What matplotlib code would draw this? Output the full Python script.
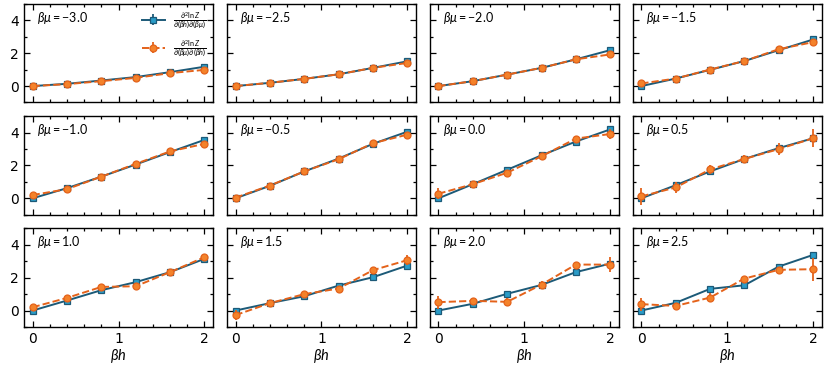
import numpy as np
import matplotlib
matplotlib.use("Agg")
import matplotlib.pyplot as plt
from matplotlib.ticker import MultipleLocator

plt.rcParams['mathtext.fontset'] = 'custom'
plt.rcParams['mathtext.rm'] = 'Lato'
plt.rcParams['mathtext.it'] = 'Lato:italic'
plt.rcParams['font.family'] = ['DejaVu Sans']

# beta*h grid and beta*mu panels
bh = [0.0, 0.4, 0.8, 1.2, 1.6, 2.0]
bmu = [-3.0, -2.5, -2.0, -1.5, -1.0, -0.5, 0.0, 0.5, 1.0, 1.5, 2.0, 2.5]

# d2lnZ / d(bh) d(bmu)
blue_vals = [
    [0.0, 0.14, 0.34, 0.55, 0.85, 1.18],
    [0.0, 0.20, 0.44, 0.72, 1.11, 1.51],
    [0.0, 0.30, 0.70, 1.11, 1.63, 2.19],
    [0.0, 0.46, 0.99, 1.53, 2.19, 2.84],
    [0.0, 0.62, 1.32, 2.06, 2.82, 3.56],
    [0.0, 0.76, 1.64, 2.42, 3.32, 4.06],
    [0.0, 0.86, 1.74, 2.62, 3.46, 4.20],
    [0.0, 0.80, 1.64, 2.40, 3.06, 3.66],
    [0.0, 0.61, 1.24, 1.73, 2.34, 3.15],
    [0.0, 0.45, 0.87, 1.52, 2.03, 2.74],
    [0.0, 0.41, 1.02, 1.56, 2.34, 2.86],
    [0.0, 0.47, 1.32, 1.54, 2.68, 3.39],
]
blue_err = [
    [0.02] * 6, [0.02] * 6, [0.02] * 6, [0.03] * 6,
    [0.03] * 6, [0.03] * 6, [0.04] * 6, [0.04] * 6,
    [0.04] * 6, [0.04] * 6, [0.05] * 6, [0.05] * 6,
]

# d2lnZ / d(bmu) d(bh)
orange_vals = [
    [0.0, 0.12, 0.30, 0.50, 0.79, 0.99],
    [0.0, 0.20, 0.44, 0.72, 1.11, 1.41],
    [0.0, 0.30, 0.70, 1.11, 1.63, 1.93],
    [0.16, 0.46, 1.01, 1.53, 2.25, 2.68],
    [0.20, 0.56, 1.32, 2.10, 2.86, 3.32],
    [0.04, 0.78, 1.64, 2.38, 3.36, 3.88],
    [0.28, 0.86, 1.56, 2.56, 3.64, 3.92],
    [0.12, 0.66, 1.76, 2.40, 3.00, 3.66],
    [0.20, 0.77, 1.44, 1.48, 2.34, 3.25],
    [-0.28, 0.45, 1.00, 1.34, 2.46, 3.07],
    [0.51, 0.59, 0.53, 1.58, 2.80, 2.80],
    [0.39, 0.28, 0.79, 1.95, 2.48, 2.52],
]
orange_err = [
    [0.03, 0.04, 0.04, 0.05, 0.05, 0.06],
    [0.03, 0.04, 0.04, 0.05, 0.05, 0.06],
    [0.04, 0.04, 0.05, 0.05, 0.06, 0.07],
    [0.05, 0.05, 0.06, 0.06, 0.07, 0.08],
    [0.06, 0.06, 0.06, 0.07, 0.08, 0.09],
    [0.08, 0.06, 0.06, 0.07, 0.08, 0.10],
    [0.35, 0.10, 0.15, 0.10, 0.15, 0.30],
    [0.50, 0.35, 0.30, 0.25, 0.35, 0.55],
    [0.15, 0.12, 0.12, 0.12, 0.12, 0.20],
    [0.30, 0.12, 0.12, 0.12, 0.20, 0.30],
    [0.40, 0.20, 0.25, 0.20, 0.15, 0.45],
    [0.40, 0.20, 0.30, 0.10, 0.20, 0.70],
]

blue_line = '#1c5a78'
blue_face = '#2a9cc8'
orange_line = '#e4621a'
orange_face = '#f4822a'

lab1 = r'$\frac{\partial^2 \ln Z}{\partial(\beta h)\partial(\beta\mu)}$'
lab2 = r'$\frac{\partial^2 \ln Z}{\partial(\beta\mu)\partial(\beta h)}$'

fig, axes = plt.subplots(3, 4, figsize=(8.3, 3.69), dpi=100,
                         sharex=True, sharey=True)
fig.subplots_adjust(left=0.029, right=0.99, top=0.989, bottom=0.114,
                    wspace=0.074, hspace=0.14)

for i, ax in enumerate(axes.flat):
    ax.errorbar(bh, blue_vals[i], yerr=blue_err[i], color=blue_line,
                marker='s', ms=5, mfc=blue_face, mec=blue_line, mew=0.9,
                lw=1.4, elinewidth=1.3, capsize=0, label=lab1, zorder=2)
    ax.errorbar(bh, orange_vals[i], yerr=orange_err[i], color=orange_line,
                marker='o', ms=5, mfc=orange_face, mec=orange_line, mew=0.9,
                lw=1.4, ls='--', elinewidth=1.3, capsize=0, label=lab2, zorder=3)
    ax.text(0.07, 0.86, r'$\beta\mu = %.1f$' % bmu[i], transform=ax.transAxes,
            fontsize=9, va='center', ha='left')
    ax.set_xlim(-0.1, 2.1)
    ax.set_ylim(-1, 5)
    ax.xaxis.set_major_locator(MultipleLocator(1))
    ax.xaxis.set_minor_locator(MultipleLocator(0.2))
    ax.yaxis.set_major_locator(MultipleLocator(2))
    ax.yaxis.set_minor_locator(MultipleLocator(1))
    ax.tick_params(which='both', direction='in', top=True, right=True,
                   labelsize=10, width=0.9)
    ax.tick_params(which='major', length=4)
    ax.tick_params(which='minor', length=2)
    for s in ax.spines.values():
        s.set_linewidth(1.0)

for ax in axes[-1]:
    ax.set_xlabel(r'$\beta h$', fontsize=10.5, labelpad=1)

axes[0, 0].legend(loc='upper right', frameon=False, fontsize=7.5,
                  handlelength=2.2, borderaxespad=0.2, labelspacing=0.7)

fig.savefig('out.png', dpi=100)
